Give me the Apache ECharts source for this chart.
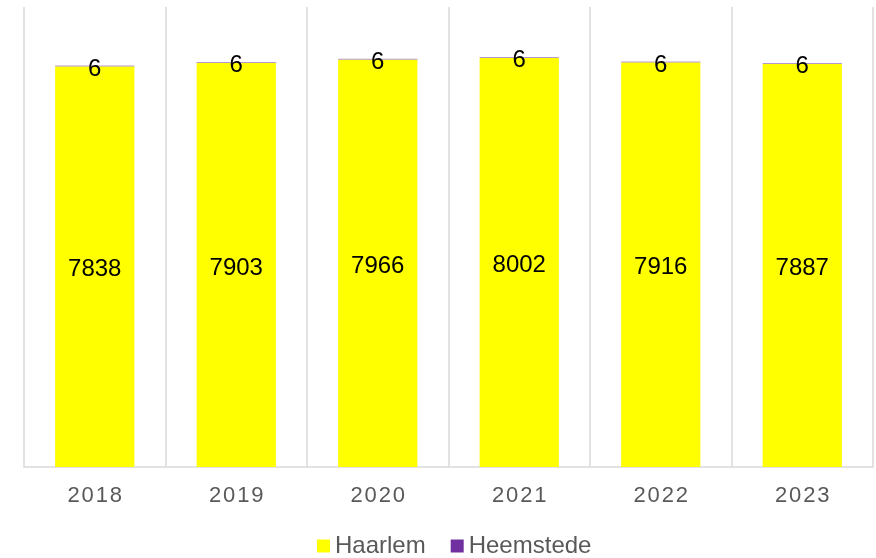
<!DOCTYPE html>
<html>
<head>
<meta charset="utf-8">
<script src="https://cdn.jsdelivr.net/npm/echarts@6/dist/echarts.min.js"></script>
<style>
  html, body { margin: 0; padding: 0; background: #ffffff; }
  #chart { width: 876px; height: 558px; }
</style>
</head>
<body>
<div id="chart"></div>
<script>
// Yearly counts per municipality
const years = ['2018', '2019', '2020', '2021', '2022', '2023'];
const haarlem = [7838, 7903, 7966, 8002, 7916, 7887];
const heemstede = [6, 6, 6, 6, 6, 6];

const FONT = "'Liberation Sans', Arial, sans-serif";
const PURPLE = '#7030A0';

// spread the year digits apart a little
const spaced = s => s.split('').join('\u200A');

const chart = echarts.init(document.getElementById('chart'), null, { renderer: 'canvas' });
chart.setOption({
  animation: false,
  textStyle: { fontFamily: FONT },
  grid: { left: 24, right: 3, top: 7, bottom: 91, containLabel: false },
  legend: {
    data: [
      { name: 'Haarlem' },
      { name: 'Heemstede', itemStyle: { color: PURPLE } }
    ],
    left: 317,
    top: 534,
    padding: 0,
    itemWidth: 13,
    itemHeight: 13,
    itemGap: 25,
    icon: 'rect',
    textStyle: { fontFamily: FONT, fontSize: 24, color: '#595959' }
  },
  xAxis: {
    type: 'category',
    data: years,
    axisLine: { show: true, lineStyle: { color: '#d9d9d9', width: 1.5 } },
    axisTick: { show: false },
    splitLine: { show: true, lineStyle: { color: '#d9d9d9', width: 1.5 } },
    axisLabel: {
      margin: 18,
      fontFamily: FONT,
      fontSize: 22,
      color: '#595959',
      formatter: v => spaced(v)
    }
  },
  yAxis: {
    type: 'value',
    min: 0,
    max: 9000,
    show: false,
    splitLine: { show: false }
  },
  series: [
    {
      name: 'Haarlem',
      type: 'bar',
      stack: 'total',
      data: haarlem,
      barCategoryGap: '44%',
      itemStyle: { color: '#FFFF00' },
      label: {
        show: true,
        position: 'inside',
        offset: [0, 3],
        fontFamily: FONT,
        fontSize: 24,
        color: '#000000'
      }
    },
    {
      name: 'Heemstede',
      type: 'bar',
      stack: 'total',
      data: heemstede,
      barMinHeight: 1,
      // the slice is a fraction of a pixel tall, so it reads as a faint line
      itemStyle: { color: 'rgba(112,48,160,0.5)' },
      label: {
        show: true,
        position: 'inside',
        offset: [0, 3],
        fontFamily: FONT,
        fontSize: 24,
        color: '#000000'
      }
    }
  ]
});
</script>
</body>
</html>
